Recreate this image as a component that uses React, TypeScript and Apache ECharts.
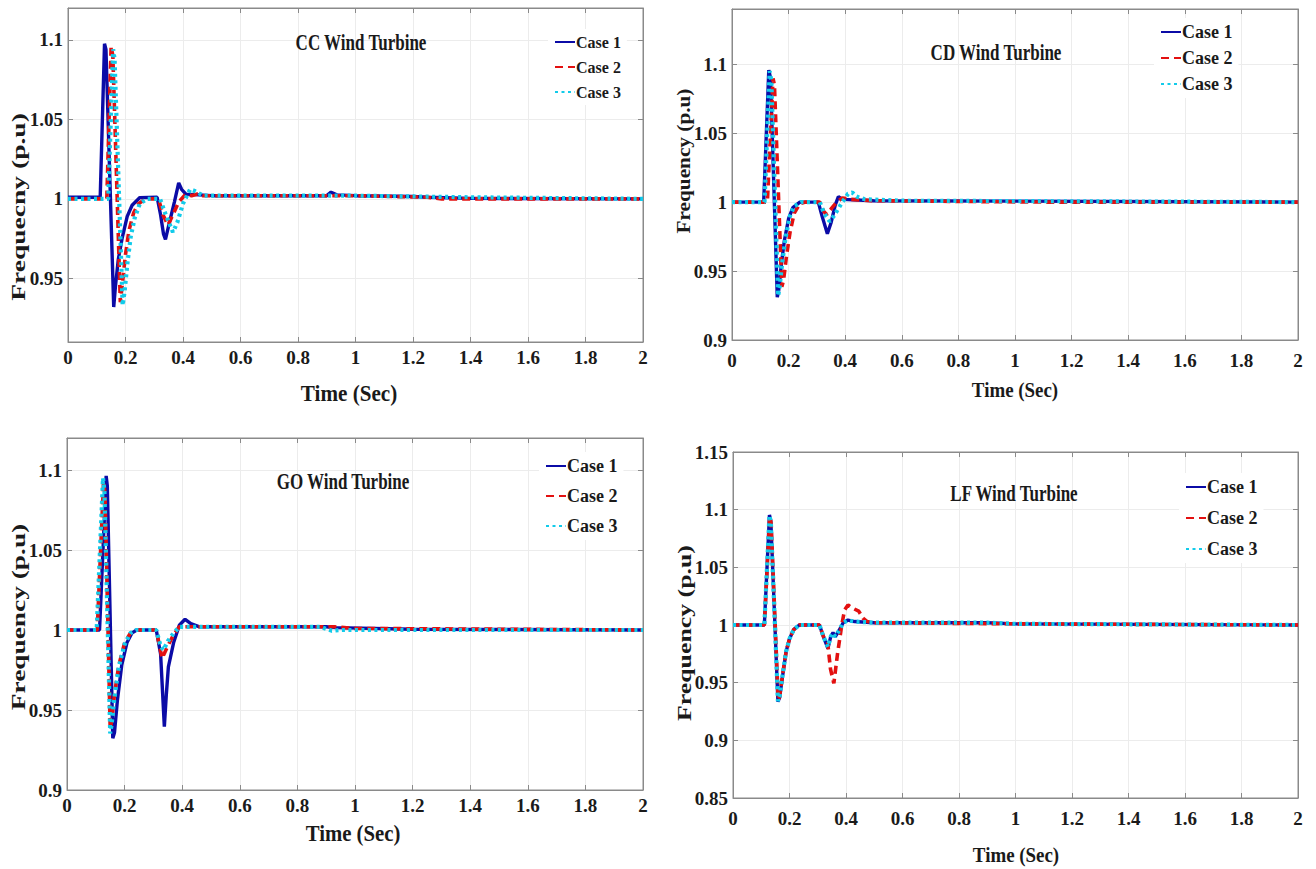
import React, { useEffect, useRef } from "react";
import * as echarts from "echarts";

// ---------- data (time in s, frequency in p.u) ----------
const caseNames = ["Case 1", "Case 2", "Case 3"];
const timeMin = 0;
const timeMax = 2;
const timeStep = 0.2;

const ccYTicks = [0.95, 1, 1.05, 1.1];
const cdYTicks = [0.9, 0.95, 1, 1.05, 1.1];
const goYTicks = [0.9, 0.95, 1, 1.05, 1.1];
const lfYTicks = [0.85, 0.9, 0.95, 1, 1.05, 1.1, 1.15];

const ccCase1 = [[0, 1.001], [0.112, 1.001], [0.127, 1.0975], [0.132, 1.094], [0.159, 0.932], [0.165, 0.945], [0.175, 0.962], [0.188, 0.975], [0.206, 0.989], [0.223, 0.996], [0.25, 1.0008], [0.31, 1.001], [0.322, 0.99], [0.332, 0.978], [0.339, 0.9745], [0.35, 0.983], [0.37, 0.998], [0.385, 1.01], [0.395, 1.006], [0.41, 1.003], [0.5, 1.002], [0.9, 1.002], [0.915, 1.0042], [0.935, 1.0025], [1.0, 1.002], [1.2, 1.0015], [1.25, 1.001], [1.4, 1.0003], [2, 1.0]];
const ccCase2 = [[0, 1.0], [0.135, 1.0], [0.15, 1.0955], [0.156, 1.09], [0.182, 0.935], [0.19, 0.948], [0.2, 0.965], [0.212, 0.98], [0.228, 0.991], [0.245, 0.997], [0.27, 1.0], [0.315, 1.0], [0.33, 0.99], [0.348, 0.9835], [0.365, 0.99], [0.385, 0.998], [0.41, 1.003], [0.43, 1.002], [0.45, 1.003], [0.47, 1.002], [1.0, 1.002], [1.25, 1.001], [1.3, 1.0], [2, 1.0]];
const ccCase3 = [[0, 1.0], [0.14, 1.0], [0.157, 1.094], [0.162, 1.088], [0.19, 0.933], [0.197, 0.942], [0.207, 0.96], [0.218, 0.976], [0.232, 0.988], [0.25, 0.997], [0.275, 1.0], [0.32, 1.0], [0.34, 0.99], [0.365, 0.979], [0.38, 0.985], [0.4, 0.997], [0.425, 1.006], [0.44, 1.005], [0.47, 1.002], [1.0, 1.002], [1.4, 1.001], [2, 1.0]];

const cdCase1 = [[0, 1.0], [0.112, 1.0], [0.13, 1.0957], [0.136, 1.09], [0.16, 0.931], [0.165, 0.936], [0.175, 0.956], [0.185, 0.972], [0.2, 0.988], [0.215, 0.996], [0.24, 1.0], [0.305, 1.0], [0.318, 0.99], [0.337, 0.977], [0.35, 0.985], [0.365, 0.998], [0.376, 1.004], [0.39, 1.002], [0.5, 1.001], [2, 1.0]];
const cdCase2 = [[0, 1.0], [0.125, 1.0], [0.145, 1.0896], [0.15, 1.085], [0.176, 0.9386], [0.182, 0.943], [0.192, 0.96], [0.205, 0.978], [0.22, 0.992], [0.24, 0.999], [0.26, 1.0], [0.31, 1.0], [0.325, 0.993], [0.335, 0.991], [0.35, 0.995], [0.37, 1.0], [0.39, 1.003], [0.42, 1.002], [0.5, 1.001], [1.1, 1.0], [2, 1.0]];
const cdCase3 = [[0, 1.0], [0.115, 1.0], [0.133, 1.095], [0.139, 1.088], [0.163, 0.932], [0.168, 0.938], [0.178, 0.957], [0.19, 0.975], [0.205, 0.99], [0.22, 0.997], [0.245, 1.0], [0.31, 1.0], [0.325, 0.992], [0.345, 0.986], [0.36, 0.99], [0.39, 1.0], [0.41, 1.006], [0.425, 1.007], [0.44, 1.004], [0.47, 1.002], [0.6, 1.001], [2, 1.0]];

const goCase1 = [[0, 1.0], [0.113, 1.0], [0.136, 1.0963], [0.14, 1.09], [0.159, 0.9323], [0.165, 0.936], [0.175, 0.956], [0.19, 0.978], [0.208, 0.992], [0.225, 0.998], [0.242, 1.0], [0.31, 1.0], [0.325, 0.985], [0.338, 0.9396], [0.345, 0.96], [0.352, 0.977], [0.37, 0.992], [0.39, 1.003], [0.41, 1.0067], [0.43, 1.004], [0.46, 1.002], [0.9, 1.002], [0.93, 1.0015], [1.2, 1.0005], [2, 1.0]];
const goCase2 = [[0, 1.0], [0.105, 1.0], [0.127, 1.093], [0.132, 1.085], [0.15, 0.938], [0.155, 0.943], [0.165, 0.96], [0.18, 0.978], [0.2, 0.992], [0.22, 0.998], [0.24, 1.0], [0.31, 1.0], [0.33, 0.9823], [0.35, 0.99], [0.37, 0.997], [0.39, 1.002], [0.42, 1.002], [0.9, 1.002], [0.93, 1.002], [1.0, 1.001], [2, 1.0]];
const goCase3 = [[0, 1.0], [0.103, 1.0], [0.125, 1.095], [0.13, 1.087], [0.15, 0.9354], [0.155, 0.941], [0.165, 0.958], [0.18, 0.977], [0.2, 0.991], [0.22, 0.998], [0.24, 1.0], [0.31, 1.0], [0.325, 0.99], [0.335, 0.9875], [0.35, 0.993], [0.37, 0.998], [0.39, 1.002], [0.42, 1.002], [0.88, 1.002], [0.92, 0.9995], [0.95, 1.0], [2, 1.0]];

const lfCase1 = [[0, 1.0], [0.111, 1.0], [0.129, 1.0954], [0.134, 1.09], [0.159, 0.9335], [0.165, 0.937], [0.175, 0.955], [0.188, 0.977], [0.2, 0.988], [0.215, 0.996], [0.235, 1.0], [0.306, 1.0], [0.32, 0.99], [0.336, 0.9798], [0.346, 0.99], [0.354, 0.9933], [0.362, 0.99], [0.375, 0.995], [0.39, 1.002], [0.407, 1.0043], [0.43, 1.003], [0.5, 1.002], [0.9, 1.002], [1.0, 1.001], [2, 1.0]];
const lfCase2 = [[0, 1.0], [0.111, 1.0], [0.13, 1.094], [0.135, 1.088], [0.16, 0.935], [0.165, 0.938], [0.175, 0.956], [0.188, 0.977], [0.2, 0.988], [0.215, 0.996], [0.235, 1.0], [0.306, 1.0], [0.32, 0.99], [0.335, 0.985], [0.345, 0.962], [0.357, 0.9494], [0.37, 0.975], [0.385, 1.0], [0.395, 1.013], [0.407, 1.0173], [0.42, 1.015], [0.445, 1.012], [0.46, 1.006], [0.475, 1.003], [0.5, 1.002], [1.0, 1.001], [2, 1.0]];
const lfCase3 = [[0, 1.0], [0.111, 1.0], [0.129, 1.095], [0.134, 1.089], [0.159, 0.934], [0.165, 0.938], [0.175, 0.956], [0.188, 0.977], [0.2, 0.988], [0.215, 0.996], [0.235, 1.0], [0.306, 1.0], [0.32, 0.99], [0.336, 0.981], [0.346, 0.99], [0.354, 0.993], [0.362, 0.99], [0.375, 0.995], [0.39, 1.002], [0.407, 1.004], [0.43, 1.003], [0.5, 1.002], [0.9, 1.002], [1.0, 1.001], [2, 1.0]];

// ---------- styling / layout ----------
const FONT = '"Liberation Serif", "Times New Roman", serif';
const TEXT = "#1a1a1a";
const AXIS = "#8a8a8a";
const GRIDLINE = "#ececec";
const caseColors = ["#0b0ba6", "#e31010", "#12cbea"];
const caseLineStyles: any[] = [
  { width: 3.4, type: "solid" },
  { width: 3.6, type: [8, 5] },
  { width: 4.2, type: [3, 3.5], cap: "butt" },
];

const panels = [
  {
    title: "CC Wind Turbine", yName: "Frequecny (p.u)", data: [ccCase1, ccCase2, ccCase3],
    yMin: 0.91, yMax: 1.12, yTicks: ccYTicks,
    grid: { left: 68, top: 8, width: 575, height: 334 },
    titlePos: [361, 42], yNamePos: [19, 207], yNameSize: 19, yNameScale: 1.45,
    xNamePos: [349, 393], xNameSize: 24, xNameScale: 0.88,
    xLabelMargin: 6,
    legend: { left: 548, top: 29, fontSize: 16, lineHeight: 18, gap: 7 },
  },
  {
    title: "CD Wind Turbine", yName: "Frequency (p.u)", data: [cdCase1, cdCase2, cdCase3],
    yMin: 0.9, yMax: 1.14, yTicks: cdYTicks,
    grid: { left: 732, top: 9, width: 566, height: 331 },
    titlePos: [996, 52], yNamePos: [683, 161], yNameSize: 19, yNameScale: 1.12,
    xNamePos: [1015, 389], xNameSize: 22, xNameScale: 0.86,
    xLabelMargin: 11,
    legend: { left: 1154, top: 18, fontSize: 18, lineHeight: 20, gap: 6 },
  },
  {
    title: "GO Wind Turbine", yName: "Frequency (p.u)", data: [goCase1, goCase2, goCase3],
    yMin: 0.9, yMax: 1.12, yTicks: goYTicks,
    grid: { left: 67, top: 438, width: 576, height: 352 },
    titlePos: [343, 481], yNamePos: [19, 617], yNameSize: 19, yNameScale: 1.44,
    xNamePos: [353, 833], xNameSize: 24, xNameScale: 0.865,
    xLabelMargin: 6,
    legend: { left: 539, top: 452, fontSize: 18, lineHeight: 20, gap: 10 },
  },
  {
    title: "LF Wind Turbine", yName: "Frequency (p.u)", data: [lfCase1, lfCase2, lfCase3],
    yMin: 0.85, yMax: 1.15, yTicks: lfYTicks,
    grid: { left: 733, top: 452, width: 565, height: 346 },
    titlePos: [1014, 493], yNamePos: [685, 633], yNameSize: 19, yNameScale: 1.36,
    xNamePos: [1016, 854], xNameSize: 22, xNameScale: 0.86,
    xLabelMargin: 11,
    legend: { left: 1179, top: 473, fontSize: 18, lineHeight: 20, gap: 11 },
  },
];

function buildOption() {
  const grid: any[] = [];
  const xAxis: any[] = [];
  const yAxis: any[] = [];
  const series: any[] = [];
  const legend: any[] = [];
  const graphic: any[] = [];
  const labelStyle = { fontFamily: FONT, fontWeight: "bold", fontSize: 19, color: TEXT };

  panels.forEach((p, i) => {
    grid.push({
      left: p.grid.left, top: p.grid.top, width: p.grid.width, height: p.grid.height,
      containLabel: false, outerBoundsMode: "none",
      show: true, borderColor: AXIS, borderWidth: 1, backgroundColor: "#fff",
    });
    const xBase = {
      type: "value", gridIndex: i, min: timeMin, max: timeMax, interval: timeStep,
      axisLine: { show: true, onZero: false, lineStyle: { color: AXIS, width: 1 } },
      axisTick: { show: true, inside: true, length: 5, lineStyle: { color: AXIS } },
    };
    xAxis.push({
      ...xBase, position: "bottom",
      axisLabel: { ...labelStyle, margin: p.xLabelMargin },
      splitLine: { show: true, lineStyle: { color: GRIDLINE, width: 1 } },
    });
    xAxis.push({ ...xBase, position: "top", axisLabel: { show: false }, splitLine: { show: false } });

    const yBase = {
      type: "value", gridIndex: i, min: p.yMin, max: p.yMax,
      axisLine: { show: true, onZero: false, lineStyle: { color: AXIS, width: 1 } },
      axisTick: { show: true, inside: true, length: 5, lineStyle: { color: AXIS }, customValues: p.yTicks },
    };
    yAxis.push({
      ...yBase, position: "left",
      axisLabel: { ...labelStyle, margin: 5, customValues: p.yTicks },
      splitLine: { show: true, lineStyle: { color: GRIDLINE, width: 1 } },
    });
    yAxis.push({ ...yBase, position: "right", axisLabel: { show: false }, splitLine: { show: false } });

    p.data.forEach((d, k) => {
      series.push({
        type: "line", name: caseNames[k], data: d,
        xAxisIndex: 2 * i, yAxisIndex: 2 * i,
        showSymbol: false, symbol: "none",
        color: caseColors[k],
        lineStyle: { color: caseColors[k], ...caseLineStyles[k] },
        z: 2 + k,
      });
    });

    legend.push({
      data: caseNames, orient: "vertical", left: p.legend.left, top: p.legend.top,
      backgroundColor: "#fff", padding: [4, 6, 4, 6], itemGap: p.legend.gap,
      itemWidth: 20, itemHeight: 12, selectedMode: false,
      itemStyle: { opacity: 0 },
      textStyle: { fontFamily: FONT, fontWeight: "bold", fontSize: p.legend.fontSize, lineHeight: p.legend.lineHeight, color: TEXT, padding: [0, 0, 0, -4] },
    });

    graphic.push({
      type: "text", x: p.titlePos[0], y: p.titlePos[1], scaleX: 0.74, z: 10,
      style: { text: p.title, fontFamily: FONT, fontWeight: "bold", fontSize: 23, fill: TEXT, align: "center", verticalAlign: "middle" },
    });
    graphic.push({
      type: "text", x: p.yNamePos[0], y: p.yNamePos[1], rotation: Math.PI / 2, scaleX: p.yNameScale, z: 10,
      style: { text: p.yName, fontFamily: FONT, fontWeight: "bold", fontSize: p.yNameSize, fill: TEXT, align: "center", verticalAlign: "middle" },
    });
    graphic.push({
      type: "text", x: p.xNamePos[0], y: p.xNamePos[1], scaleX: p.xNameScale, z: 10,
      style: { text: "Time (Sec)", fontFamily: FONT, fontWeight: "bold", fontSize: p.xNameSize, fill: TEXT, align: "center", verticalAlign: "middle" },
    });
  });

  return {
    animation: false,
    backgroundColor: "#fff",
    textStyle: { fontFamily: FONT },
    grid, xAxis, yAxis, series, legend, graphic,
  };
}

export default function App() {
  const ref = useRef<HTMLDivElement>(null);
  useEffect(() => {
    if (!ref.current) return;
    const chart = echarts.init(ref.current, null, { renderer: "svg" });
    chart.setOption(buildOption() as any);
    return () => chart.dispose();
  }, []);
  return (
    <div
      ref={ref}
      style={{ position: "absolute", left: 0, top: 0, width: 1316, height: 869, background: "#fff" }}
    />
  );
}
